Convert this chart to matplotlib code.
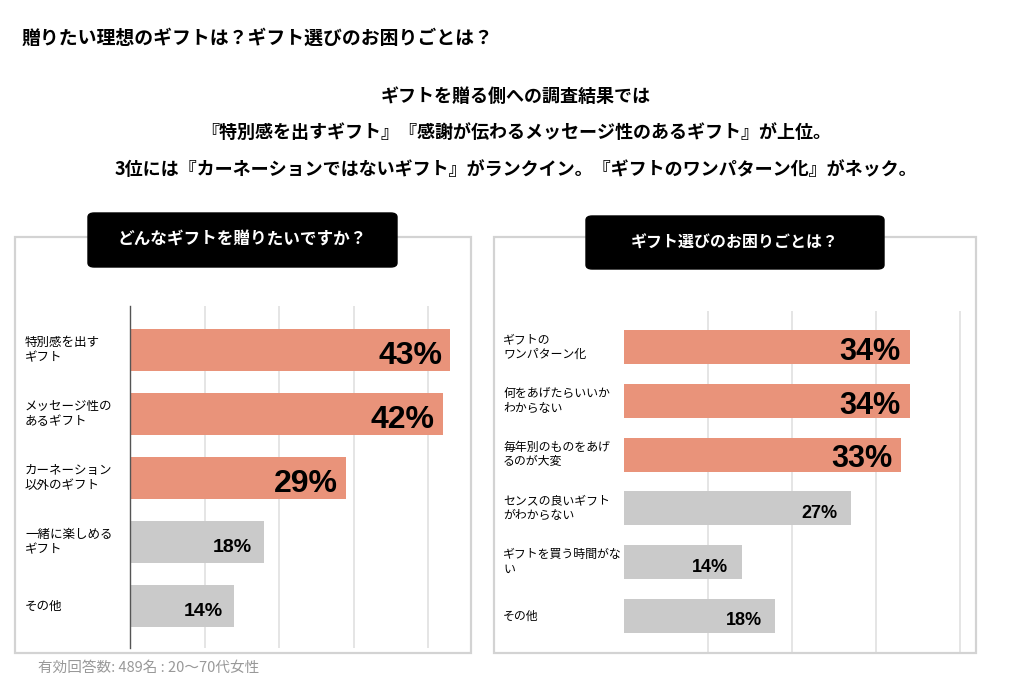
import matplotlib
matplotlib.use("Agg")
import matplotlib.pyplot as plt
from matplotlib.patches import Rectangle, FancyBboxPatch

plt.rcParams['font.family'] = ['Noto Sans CJK JP', 'DejaVu Sans']

# data
title = '贈りたい理想のギフトは？ギフト選びのお困りごとは？'
subtitle = ['ギフトを贈る側への調査結果では',
            '『特別感を出すギフト』『感謝が伝わるメッセージ性のあるギフト』が上位。',
            '3位には『カーネーションではないギフト』がランクイン。『ギフトのワンパターン化』がネック。']
note = '有効回答数: 489名 : 20〜70代女性'

left_title = 'どんなギフトを贈りたいですか？'
left_labels = ['特別感を出す\nギフト', 'メッセージ性の\nあるギフト', 'カーネーション\n以外のギフト',
               '一緒に楽しめる\nギフト', 'その他']
left_values = [43, 42, 29, 18, 14]

right_title = 'ギフト選びのお困りごとは？'
right_labels = ['ギフトの\nワンパターン化', '何をあげたらいいか\nわからない', '毎年別のものをあげ\nるのが大変',
                'センスの良いギフト\nがわからない', 'ギフトを買う時間がな\nい', 'その他']
right_values = [34, 34, 33, 27, 14, 18]

n_top = 3
grid_ticks = [10, 20, 30, 40]

W, H = 1032, 681
ORANGE = '#E9937A'
GRAY = '#CACACA'

fig = plt.figure(figsize=(W / 100, H / 100), dpi=100)


def fx(px):
    return px / W


def fy(py):
    return 1 - py / H


def panel(box, header, header_text, header_fs):
    x0, y0, x1, y1 = box
    fig.patches.append(Rectangle((fx(x0), fy(y1)), fx(x1 - x0), (y1 - y0) / H,
                                 transform=fig.transFigure, fill=False,
                                 edgecolor='#d3d3d3', lw=1.6, zorder=0))
    hx0, hy0, hx1, hy1 = header
    fig.patches.append(FancyBboxPatch((fx(hx0), fy(hy1)), fx(hx1 - hx0), (hy1 - hy0) / H,
                                      boxstyle='round,pad=0,rounding_size=0.006',
                                      transform=fig.transFigure, facecolor='black',
                                      edgecolor='black', zorder=3))
    fig.text(fx((hx0 + hx1) / 2), fy((hy0 + hy1) / 2), header_text, color='white',
             fontsize=header_fs, fontweight='bold', ha='center', va='center', zorder=4)


def bar_chart(rect, labels, values, xmax, ylim, height, label_px, label_fs,
              big_fs, small_fs, spine):
    x0, y0, x1, y1 = rect
    ax = fig.add_axes([fx(x0), fy(y1), fx(x1 - x0), (y1 - y0) / H])
    ax.patch.set_alpha(0)
    pos = list(range(len(values)))
    colors = [ORANGE if i < n_top else GRAY for i in pos]
    ax.barh(pos, values, height=height, color=colors, zorder=2)
    ax.set_xlim(0, xmax)
    ax.set_ylim(ylim)
    ax.set_xticks(grid_ticks)
    ax.set_yticks([])
    ax.tick_params(axis='x', length=0, labelbottom=False)
    ax.grid(axis='x', color='#dedede', lw=1.1, zorder=0)
    for s in ['top', 'right', 'bottom']:
        ax.spines[s].set_visible(False)
    if spine:
        ax.spines['left'].set_color('#555555')
        ax.spines['left'].set_linewidth(1.0)
    else:
        ax.spines['left'].set_visible(False)
    label_x = (label_px - x0) / (x1 - x0)
    for i, v in enumerate(values):
        if i < n_top:
            ax.text(v - 1.1, i + 0.09, '%d%%' % v, ha='right', va='center',
                    fontsize=big_fs, fontweight='bold', family='Liberation Sans', zorder=3)
        else:
            ax.text(v - 1.6, i + 0.09, '%d%%' % v, ha='right', va='center',
                    fontsize=small_fs, fontweight='bold', family='Liberation Sans', zorder=3)
        ax.text(label_x, i, labels[i], transform=ax.get_yaxis_transform(),
                ha='left', va='center', fontsize=label_fs, linespacing=1.15)
    return ax


fig.text(fx(22), fy(38), title, fontsize=13.6, fontweight='bold', ha='left', va='center')
for line, py in zip(subtitle, [96, 132, 170]):
    fig.text(fx(516), fy(py), line, fontsize=13, fontweight='bold', ha='center', va='center')

panel((15, 237, 471, 653), (88, 213, 397, 267), left_title, 12)
panel((494, 237, 976, 653), (586, 216, 884, 269), right_title, 11.5)

# left chart: bars 64px apart, first centre at y=350
bar_chart((130, 306, 460, 648), left_labels, left_values, 330 / 7.45,
          (4 + 42 / 64, -44 / 64), 42 / 64, 25,
          9, 23, 14, True)
# right chart: bars 53.8px apart, first centre at y=347
bar_chart((624, 311, 970, 652), right_labels, right_values, 346 / 8.4,
          (5 + 36 / 53.8, -36 / 53.8), 34 / 53.8, 503,
          8.6, 22, 13, False)

fig.text(fx(38), fy(668), note, fontsize=10.5, color='#999999', ha='left', va='center')

fig.savefig('out.png', dpi=100)
